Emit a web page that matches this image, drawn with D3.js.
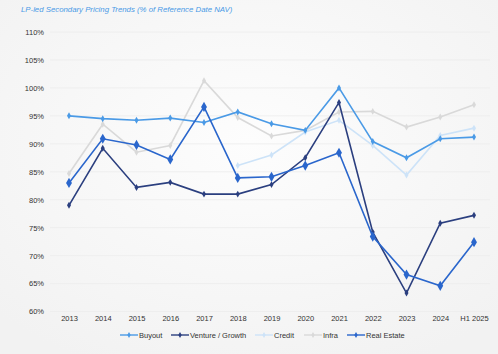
<!DOCTYPE html>
<html>
<head>
<meta charset="utf-8">
<script src="https://cdn.jsdelivr.net/npm/d3@7"></script>
<style>
  html, body { margin: 0; padding: 0; background: #f7f7f7; }
  svg { display: block; font-family: "Liberation Sans", Arial, sans-serif; }
</style>
</head>
<body>
<svg id="chart"></svg>
<script>
const years = ["2013", "2014", "2015", "2016", "2017", "2018", "2019", "2020", "2021", "2022", "2023", "2024", "H1 2025"];
const buyout = [95.0, 94.5, 94.2, 94.6, 93.8, 95.7, 93.6, 92.4, 100.0, 90.4, 87.5, 90.9, 91.2];
const venture = [79.0, 89.2, 82.2, 83.1, 81.0, 81.0, 82.7, 87.5, 97.4, 74.2, 63.3, 75.8, 77.2];
const credit = [null, null, null, null, null, 86.1, 88.0, 92.1, 94.2, 89.7, 84.4, 91.5, 92.8];
const infra = [84.7, 93.5, 88.5, 89.7, 101.3, 94.7, 91.4, 92.4, 95.7, 95.8, 93.0, 94.8, 97.0];
const realEstate = [83.0, 90.9, 89.8, 87.2, 96.6, 83.9, 84.1, 86.1, 88.4, 73.4, 66.6, 64.6, 72.4];
const yTicks = [60, 65, 70, 75, 80, 85, 90, 95, 100, 105, 110];

const series = [
  { name: "Infra", values: infra, color: "#d9d9d9", size: 14 },
  { name: "Credit", values: credit, color: "#cde3f8", size: 14 },
  { name: "Buyout", values: buyout, color: "#4a9ae6", size: 14 },
  { name: "Venture / Growth", values: venture, color: "#2b3f7f", size: 14 },
  { name: "Real Estate", values: realEstate, color: "#2a66cc", size: 30 }
];
const legendOrder = ["Buyout", "Venture / Growth", "Credit", "Infra", "Real Estate"];

const W = 498, H = 354;
const svg = d3.select("#chart").attr("width", W).attr("height", H);

// faint background
const defs = svg.append("defs");
const grad = defs.append("radialGradient").attr("id", "bg").attr("cx", "50%").attr("cy", "40%").attr("r", "70%");
grad.append("stop").attr("offset", "0%").attr("stop-color", "#fdfdfd");
grad.append("stop").attr("offset", "100%").attr("stop-color", "#f2f2f2");
svg.append("rect").attr("width", W).attr("height", H).attr("fill", "url(#bg)");

const x = d3.scalePoint().domain(years).range([69, 474]);
const y = d3.scaleLinear().domain([60, 110]).range([311.5, 32]);

// grid
svg.append("g")
  .selectAll("line")
  .data(yTicks)
  .join("line")
  .attr("x1", 50).attr("x2", 490)
  .attr("y1", d => y(d)).attr("y2", d => y(d))
  .attr("stroke", "#ececec")
  .attr("stroke-width", 0.8);

// y axis labels
svg.append("g")
  .attr("transform", "translate(44,0)")
  .call(d3.axisLeft(y).tickValues(yTicks).tickFormat(d => d + "%").tickSize(0).tickPadding(0))
  .call(g => g.select(".domain").remove())
  .call(g => g.selectAll("text").attr("fill", "#333").style("font-size", "7.5px").style("font-family", "Liberation Sans, Arial, sans-serif"));

// x axis labels
svg.append("g")
  .attr("transform", "translate(0,316)")
  .call(d3.axisBottom(x).tickSize(0).tickPadding(0))
  .call(g => g.select(".domain").remove())
  .call(g => g.selectAll("text").attr("fill", "#333").style("font-size", "7.5px").style("font-family", "Liberation Sans, Arial, sans-serif"));

// lines
const line = d3.line()
  .defined(d => d != null)
  .x((d, i) => x(years[i]))
  .y(d => y(d));

series.forEach(s => {
  const g = svg.append("g");
  g.append("path")
    .datum(s.values)
    .attr("fill", "none")
    .attr("stroke", s.color)
    .attr("stroke-width", 1.6)
    .attr("d", line);
  g.selectAll("path.pt")
    .data(s.values.map((v, i) => ({ v, i })).filter(d => d.v != null))
    .join("path")
    .attr("class", "pt")
    .attr("transform", d => `translate(${x(years[d.i])},${y(d.v)})`)
    .attr("d", d3.symbol(d3.symbolDiamond, s.size))
    .attr("fill", s.color);
});

// title
svg.append("text")
  .attr("x", 21).attr("y", 12)
  .attr("fill", "#4a9ae6")
  .style("font-size", "7.8px")
  .style("font-style", "italic")
  .text("LP-led Secondary Pricing Trends (% of Reference Date NAV)");

// legend
const legendX = [120, 171, 255, 304, 347];
const leg = svg.append("g");
legendOrder.forEach((name, i) => {
  const s = series.find(d => d.name === name);
  const g = leg.append("g").attr("transform", `translate(${legendX[i]},335)`);
  g.append("line").attr("x1", 0).attr("x2", 18).attr("stroke", s.color).attr("stroke-width", 1.4);
  g.append("path").attr("transform", "translate(9,0)").attr("d", d3.symbol(d3.symbolDiamond, 10)).attr("fill", s.color);
  g.append("text").attr("x", 19).attr("dy", "0.35em").attr("fill", "#333").style("font-size", "7.5px").text(name);
});
</script>
</body>
</html>
